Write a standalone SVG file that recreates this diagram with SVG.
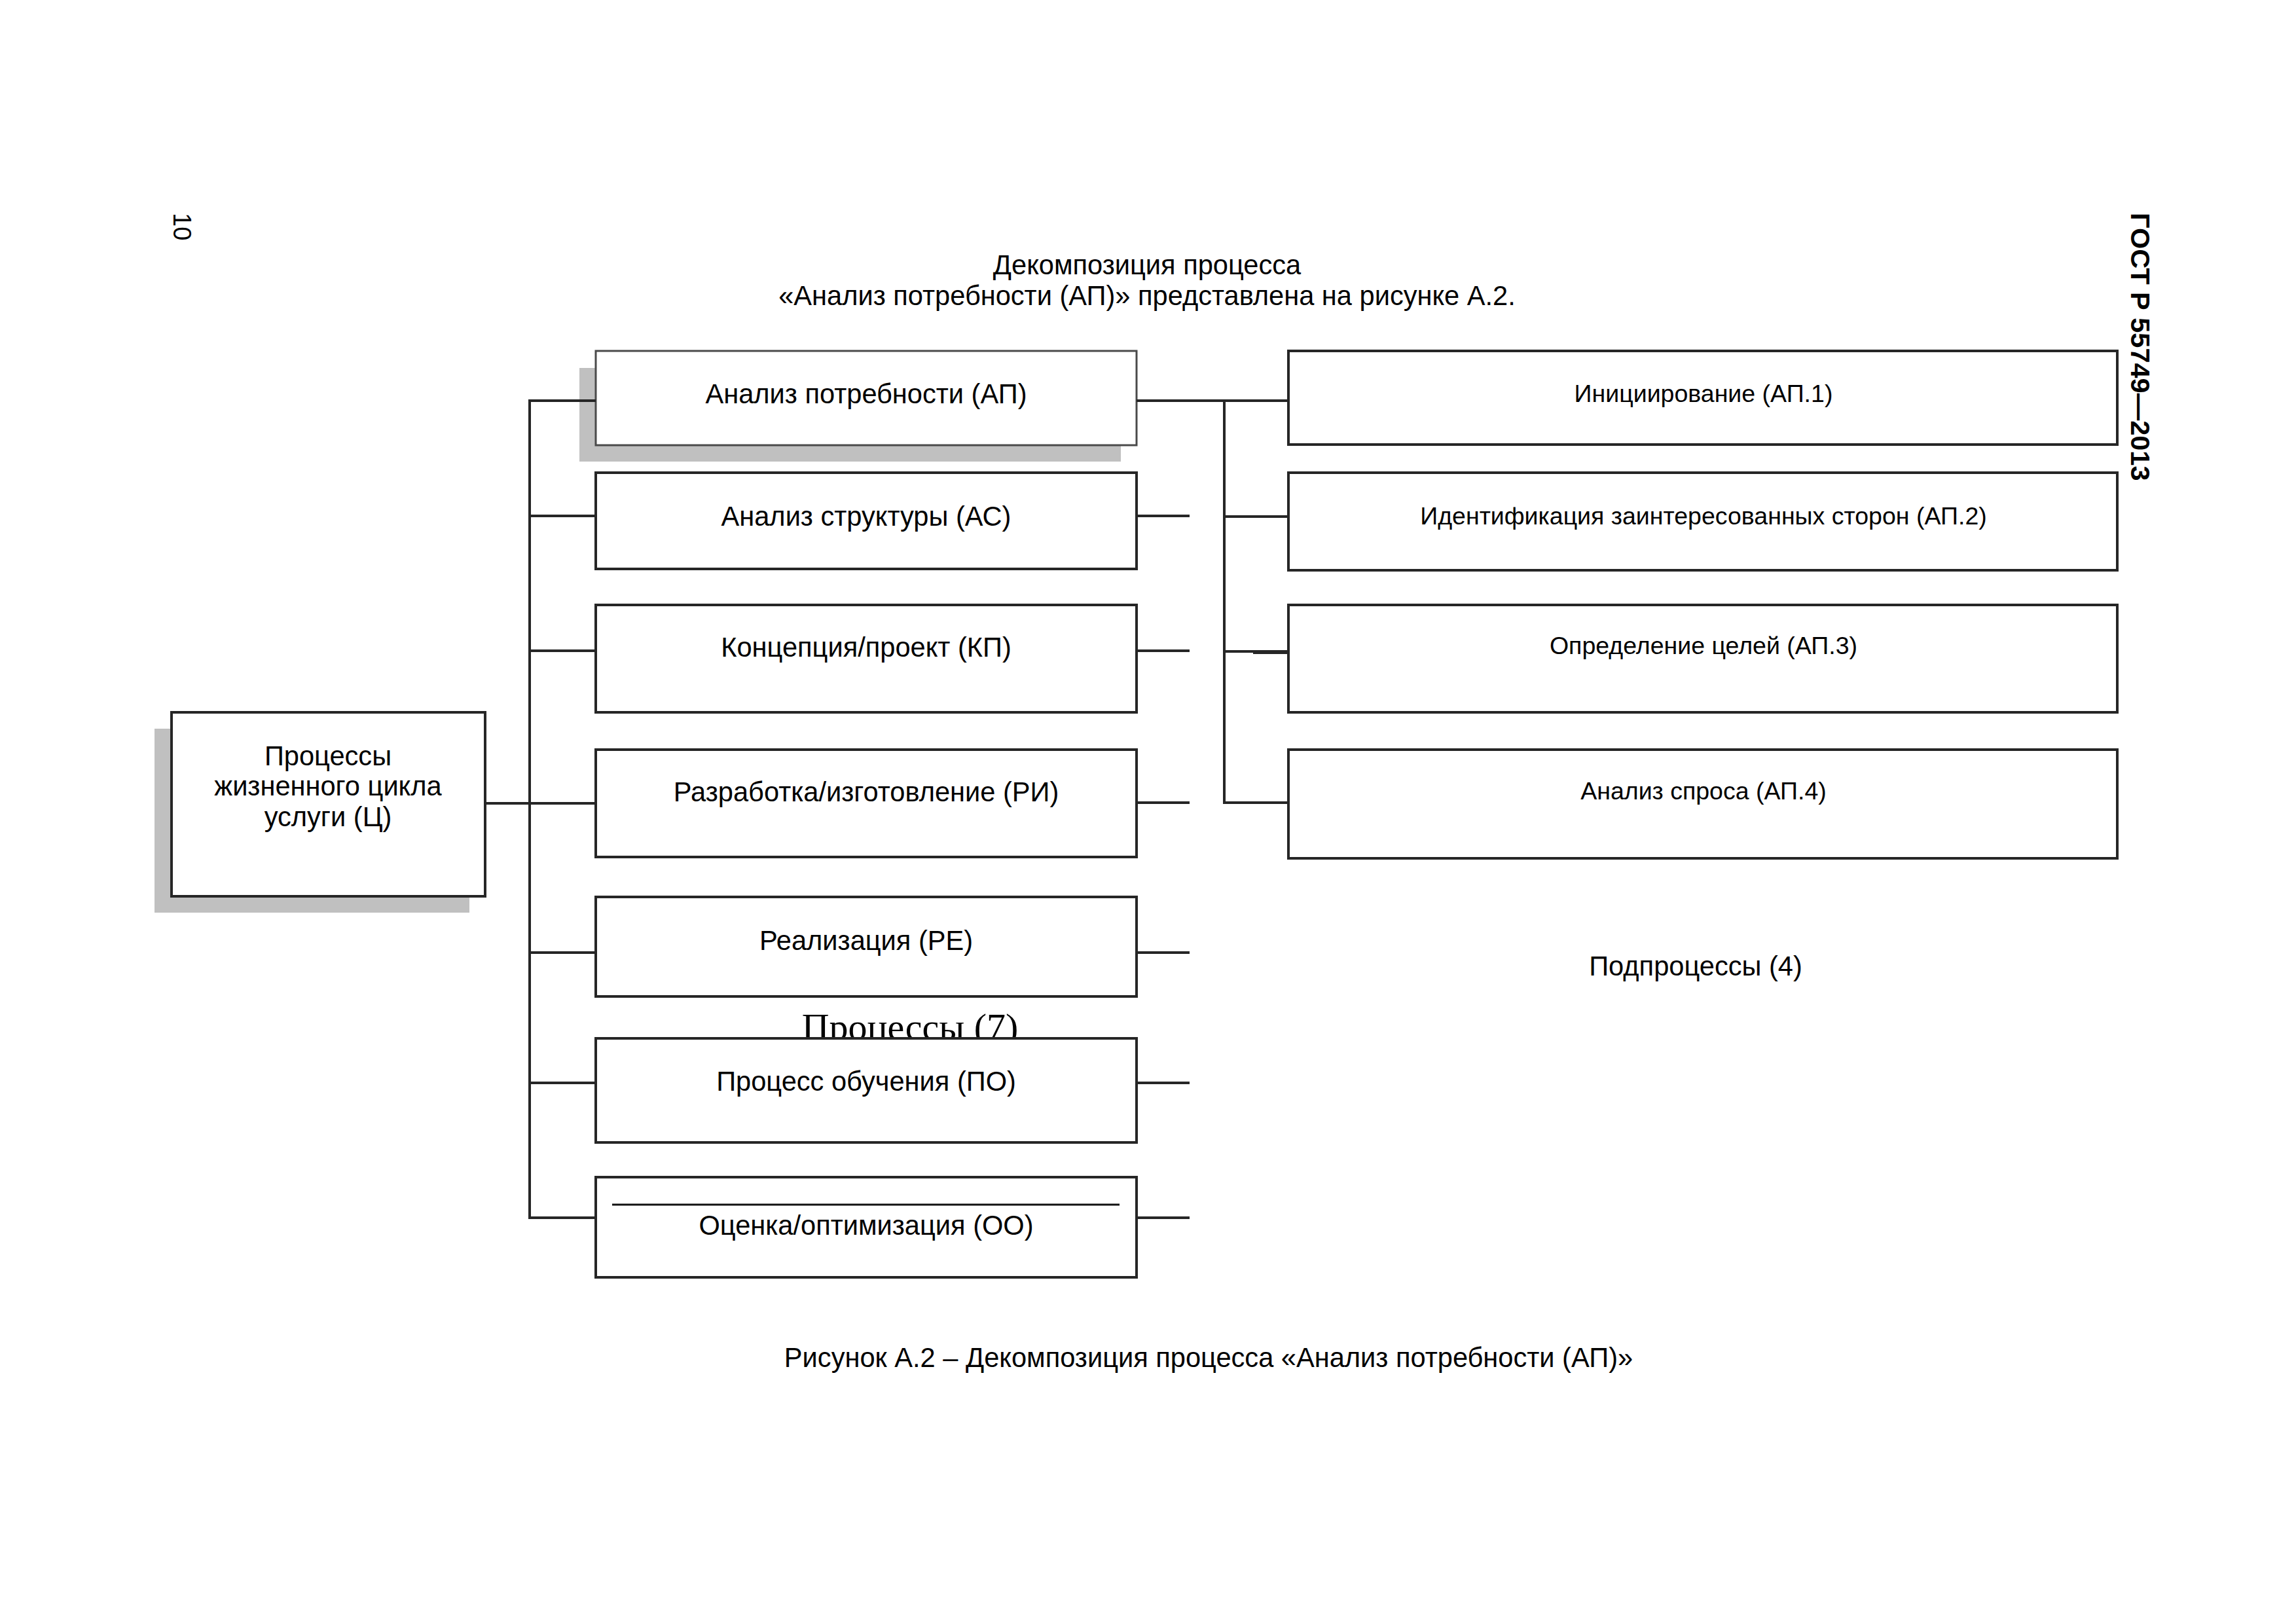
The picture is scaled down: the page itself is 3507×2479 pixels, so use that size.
<svg xmlns="http://www.w3.org/2000/svg" width="3507" height="2479" viewBox="0 0 3507 2479">
<style>
.box{fill:#fff;stroke:#262626;stroke-width:4}
.boxap{fill:#fff;stroke:#4a4a4a;stroke-width:3}
.sh{fill:#c0c0c0}
.t{font-family:"Liberation Sans",Arial,sans-serif;font-size:41.6px;fill:#000;text-anchor:middle}
.ts{font-family:"Liberation Sans",Arial,sans-serif;font-size:37.5px;fill:#000;text-anchor:middle}
.c{stroke:#262626;stroke-width:4;fill:none}
</style>
<rect width="3507" height="2479" fill="#fff"/>
<text x="265" y="325" transform="rotate(90 265 325)" style="font-family:'Liberation Sans',Arial,sans-serif;font-size:38px">10</text>
<text x="3255" y="325" transform="rotate(90 3255 325)" style="font-family:'Liberation Sans',Arial,sans-serif;font-size:41.5px;font-weight:bold">ГОСТ Р 55749—2013</text>
<text class="t" x="1752" y="419">Декомпозиция процесса</text>
<text class="t" x="1752" y="466">«Анализ потребности (АП)» представлена на рисунке А.2.</text>
<text x="1390" y="1588" style="font-family:'Liberation Serif','Times New Roman',serif;font-size:58px;text-anchor:middle">Процессы (7)</text>
<g id="root">
<rect class="sh" x="236" y="1113" width="481" height="281"/>
<rect class="box" x="262" y="1088" width="479" height="281"/>
<text class="t" x="501" y="1169">Процессы</text>
<text class="t" x="501" y="1215">жизненного цикла</text>
<text class="t" x="501" y="1262">услуги (Ц)</text>
</g>
<g id="ap">
<rect class="sh" x="885" y="562" width="827" height="143"/>
<rect class="boxap" x="910" y="536" width="826" height="144"/>
<text class="t" x="1323" y="616">Анализ потребности (АП)</text>
</g>
<g id="as">
<rect class="box" x="910" y="722" width="826" height="147"/>
<text class="t" x="1323" y="803">Анализ структуры (АС)</text>
</g>
<g id="kp">
<rect class="box" x="910" y="924" width="826" height="164"/>
<text class="t" x="1323" y="1003">Концепция/проект (КП)</text>
</g>
<g id="ri">
<rect class="box" x="910" y="1145" width="826" height="164"/>
<text class="t" x="1323" y="1224">Разработка/изготовление (РИ)</text>
</g>
<g id="re">
<rect class="box" x="910" y="1370" width="826" height="152"/>
<text class="t" x="1323" y="1451">Реализация (РЕ)</text>
</g>
<g id="po">
<rect class="box" x="910" y="1586" width="826" height="159"/>
<text class="t" x="1323" y="1666">Процесс обучения (ПО)</text>
</g>
<g id="oo">
<rect class="box" x="910" y="1798" width="826" height="153"/>
<line x1="935" y1="1840" x2="1710" y2="1840" stroke="#111" stroke-width="3"/>
<text class="t" x="1323" y="1886">Оценка/оптимизация (ОО)</text>
</g>
<g id="ap1">
<rect class="box" x="1968" y="536" width="1266" height="143"/>
<text class="ts" x="2602" y="614">Инициирование (АП.1)</text>
</g>
<g id="ap2">
<rect class="box" x="1968" y="722" width="1266" height="149"/>
<text class="ts" x="2602" y="801">Идентификация заинтересованных сторон (АП.2)</text>
</g>
<g id="ap3">
<rect class="box" x="1968" y="924" width="1266" height="164"/>
<text class="ts" x="2602" y="999">Определение целей (АП.3)</text>
</g>
<g id="ap4">
<rect class="box" x="1968" y="1145" width="1266" height="166"/>
<text class="ts" x="2602" y="1221">Анализ спроса (АП.4)</text>
</g>
<text class="t" x="2590" y="1490">Подпроцессы (4)</text>
<g id="connectors">
<line class="c" x1="741" y1="1227" x2="910" y2="1227"/>
<line class="c" x1="809" y1="610" x2="809" y2="1862"/>
<line class="c" x1="807" y1="612" x2="910" y2="612"/>
<line class="c" x1="809" y1="788" x2="910" y2="788"/>
<line class="c" x1="809" y1="994" x2="910" y2="994"/>
<line class="c" x1="809" y1="1455" x2="910" y2="1455"/>
<line class="c" x1="809" y1="1654" x2="910" y2="1654"/>
<line class="c" x1="807" y1="1860" x2="910" y2="1860"/>
<line class="c" x1="1736" y1="612" x2="1968" y2="612"/>
<line class="c" x1="1870" y1="610" x2="1870" y2="1228"/>
<line class="c" x1="1870" y1="789" x2="1968" y2="789"/>
<line class="c" x1="1870" y1="995" x2="1968" y2="995"/>
<line class="c" x1="1914" y1="997" x2="1968" y2="997"/>
<line class="c" x1="1868" y1="1226" x2="1968" y2="1226"/>
<line class="c" x1="1736" y1="788" x2="1817" y2="788"/>
<line class="c" x1="1736" y1="994" x2="1817" y2="994"/>
<line class="c" x1="1736" y1="1226" x2="1817" y2="1226"/>
<line class="c" x1="1736" y1="1455" x2="1817" y2="1455"/>
<line class="c" x1="1736" y1="1654" x2="1817" y2="1654"/>
<line class="c" x1="1736" y1="1860" x2="1817" y2="1860"/>
</g>
<text class="t" x="1846" y="2088">Рисунок А.2 – Декомпозиция процесса «Анализ потребности (АП)»</text>
</svg>
